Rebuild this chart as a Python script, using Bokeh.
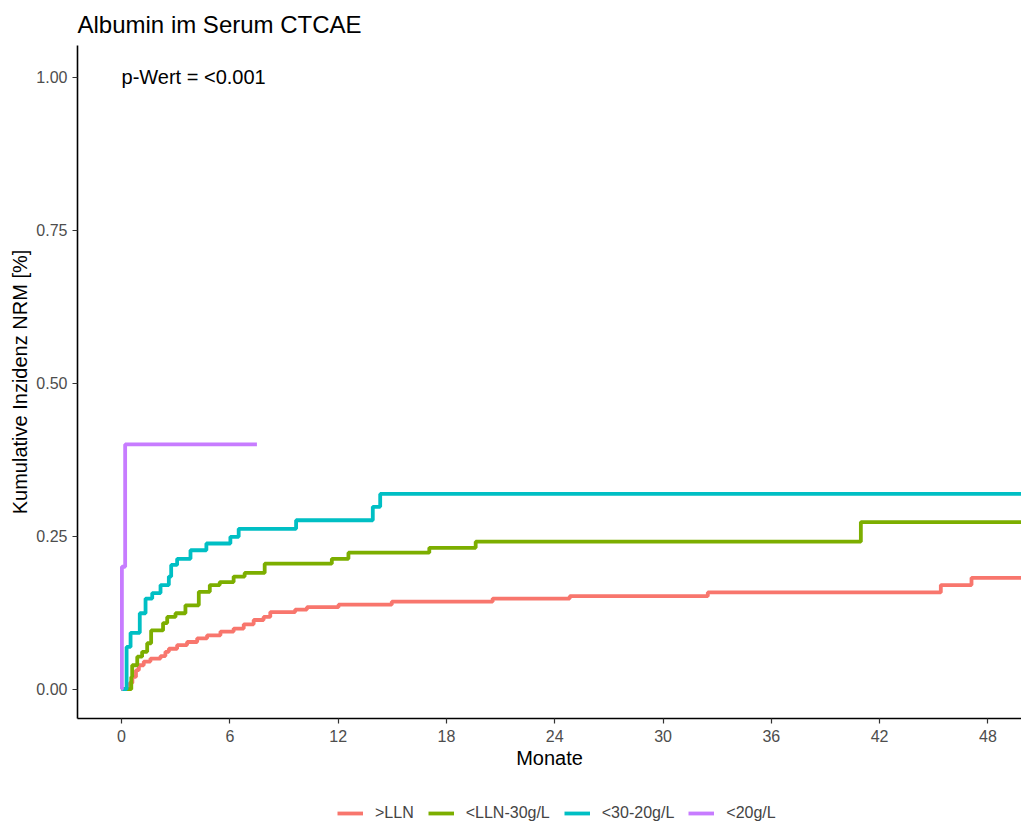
from bokeh.plotting import figure
from bokeh.layouts import column
from bokeh.models import Range1d, Legend, LegendItem, Label, FixedTicker, NumeralTickFormatter, ColumnDataSource
from bokeh.embed import file_html
from bokeh.resources import INLINE

# ---- data ----
groups = [">LLN", "<LLN-30g/L", "<30-20g/L", "<20g/L"]
colors = ["#F8766D", "#7CAE00", "#00BFC4", "#C77CFF"]

red_t = [0, 0.45, 0.6, 0.8, 0.96, 1.23, 1.6, 2.16, 2.43, 2.62, 3.08, 3.63, 4.19, 4.74, 5.48, 6.21,
         6.77, 7.32, 7.87, 8.24, 9.62, 10.27, 12.02, 14.97, 20.56, 24.83, 32.48, 45.39, 47.09, 50]
red_v = [0, 0.010, 0.020, 0.031, 0.039, 0.045, 0.050, 0.054, 0.061, 0.066, 0.072, 0.077, 0.083, 0.088,
         0.094, 0.099, 0.106, 0.113, 0.118, 0.126, 0.130, 0.134, 0.138, 0.143, 0.148, 0.152, 0.158,
         0.170, 0.182, 0.182]

green_t = [0, 0.54, 0.59, 0.87, 1.14, 1.42, 1.64, 2.30, 2.53, 2.99, 3.54, 4.28, 4.89, 5.44, 6.21,
           6.82, 7.93, 11.65, 12.57, 17.05, 19.62, 40.96, 50]
green_v = [0, 0.020, 0.039, 0.053, 0.061, 0.075, 0.096, 0.108, 0.118, 0.124, 0.137, 0.159, 0.170,
           0.175, 0.184, 0.190, 0.205, 0.213, 0.223, 0.231, 0.241, 0.273, 0.273]

cyan_t = [0, 0.28, 0.5, 1.01, 1.33, 1.70, 2.16, 2.62, 2.75, 3.08, 3.82, 4.70, 6.03, 6.49, 9.67,
          13.92, 14.33, 50]
cyan_v = [0, 0.069, 0.092, 0.124, 0.148, 0.157, 0.170, 0.184, 0.203, 0.213, 0.227, 0.238, 0.249,
          0.262, 0.276, 0.298, 0.319, 0.319]

purple_t = [0, 0.02, 0.2, 7.5]
purple_v = [0, 0.2, 0.4, 0.4]

x_ticks = [0, 6, 12, 18, 24, 30, 36, 42, 48]
y_ticks = [0, 0.25, 0.5, 0.75, 1.0]

FONT = "Liberation Sans"
LINE_W = 3.8

p = figure(width=1021, height=800, frame_width=944, frame_height=673,
           output_backend="svg", toolbar_location=None,
           x_range=Range1d(-2.44, 49.86), y_range=Range1d(-0.048, 1.052),
           min_border_left=77, min_border_right=0, min_border_top=45, min_border_bottom=82)
p.outline_line_color = None
p.xgrid.visible = False
p.ygrid.visible = False
p.background_fill_color = "white"
p.border_fill_color = "white"

p.title.text = "Albumin im Serum CTCAE"
p.title.text_font = FONT
p.title.text_font_size = "24px"
p.title.text_font_style = "normal"
p.title.text_color = "black"
p.title.align = "left"
p.title.offset = 0
p.title.standoff = 16

for ax in (p.xaxis[0], p.yaxis[0]):
    ax.axis_line_color = "black"
    ax.axis_line_width = 1.6
    ax.major_tick_line_color = "#333333"
    ax.major_tick_line_width = 1.2
    ax.major_tick_in = 0
    ax.major_tick_out = 5
    ax.minor_tick_line_color = None
    ax.major_label_text_font = FONT
    ax.major_label_text_font_size = "16px"
    ax.major_label_text_color = "#4D4D4D"
    ax.axis_label_text_font = FONT
    ax.axis_label_text_font_size = "20px"
    ax.axis_label_text_font_style = "normal"
    ax.axis_label_text_color = "black"

p.xaxis[0].ticker = FixedTicker(ticks=x_ticks)
p.yaxis[0].ticker = FixedTicker(ticks=y_ticks)
p.yaxis[0].formatter = NumeralTickFormatter(format="0.00")
p.xaxis[0].axis_label = "Monate"
p.yaxis[0].axis_label = "Kumulative Inzidenz NRM [%]"
p.xaxis[0].major_label_standoff = 6
p.xaxis[0].axis_label_standoff = 2
p.yaxis[0].major_label_standoff = 5
p.yaxis[0].axis_label_standoff = 2

p.add_layout(Label(x=0, y=1.0, text="p-Wert = <0.001", text_align="left", text_baseline="middle",
                   text_font=FONT, text_font_size="20px", text_color="black"))

# legend strip below the plot (a second, axis-less figure holding the legend)
leg = figure(width=1021, height=26, output_backend="svg", toolbar_location=None,
             x_axis_type=None, y_axis_type=None, x_range=Range1d(-2.44, 49.86), y_range=Range1d(5, 6),
             min_border=0)
leg.outline_line_color = None
leg.xgrid.visible = False
leg.ygrid.visible = False

series = [(red_t, red_v), (green_t, green_v), (cyan_t, cyan_v), (purple_t, purple_v)]
items = []
for (t, v), name, col in zip(series, groups, colors):
    src = ColumnDataSource(dict(t=t, v=v))
    p.step(x="t", y="v", mode="after", source=src, line_color=col, line_width=LINE_W)
    lr = leg.step(x="t", y="v", mode="after", source=src, line_color=col, line_width=LINE_W,
                  visible=False)
    items.append(LegendItem(label=name, renderers=[lr]))

legend = Legend(items=items, orientation="horizontal", location=(260, 3),
                glyph_width=26, glyph_height=20, label_standoff=12, spacing=14,
                label_text_font=FONT, label_text_font_size="16px",
                border_line_color=None, background_fill_color=None, padding=0, margin=0)
leg.add_layout(legend)

layout = column(p, leg, spacing=0)
open("out.html", "w").write(file_html(layout, INLINE))
